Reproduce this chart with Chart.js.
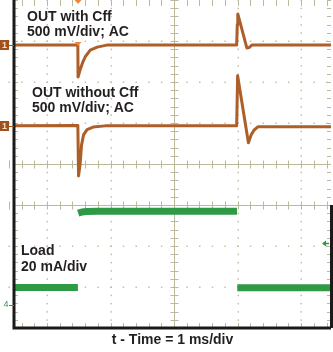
<!DOCTYPE html>
<html>
<head>
<meta charset="utf-8">
<script src="https://cdn.jsdelivr.net/npm/chart.js@4.4.1/dist/chart.umd.min.js"></script>
<style>
  html, body { margin: 0; padding: 0; background: #fff; }
  #wrap { width: 333px; height: 352px; }
</style>
</head>
<body>
<div id="wrap"><canvas id="scope" width="333" height="352"></canvas></div>
<script>
// time in ms (1 ms/div), amplitude in screen divisions (0 = centre line)
const xMin = -2.52, xMax = 2.47;
const yMin = -4, yMax = 4;

// CH1 - OUT with Cff
const outCffX = [-2.55, -1.515, -1.512, -1.48, -1.44, -1.40, -1.32, -1.21, -1.06, 0.985, 0.995, 1.003, 1.145, 1.18, 1.224, 2.5];
const outCffY = [2.90, 2.90, 2.12, 2.29, 2.47, 2.61, 2.78, 2.85, 2.90, 2.90, 3.40, 3.66, 2.83, 2.84, 2.90, 2.90];

// CH1 (second capture) - OUT without Cff
const outNoCffX = [-2.55, -1.515, -1.504, -1.48, -1.457, -1.425, -1.37, -1.276, -1.087, 0.985, 1.0, 1.17, 1.213, 1.26, 1.323, 2.5];
const outNoCffY = [0.93, 0.94, -0.29, -0.02, 0.46, 0.71, 0.84, 0.90, 0.93, 0.93, 2.15, 0.52, 0.71, 0.83, 0.91, 0.91];

// CH4 - load current step (null = no trace drawn on the fast edge)
const loadX = [-2.55, -1.514, -1.512, -1.510, -1.45, -1.38, -1.2, 0.99, 0.992, 0.995, 2.5];
const loadY = [-3.01, -3.01, null, -1.20, -1.17, -1.16, -1.15, -1.15, null, -3.02, -3.02];

// marker levels (div)
const ch1Level = outCffY[0];
const ch2Level = outNoCffY[0];
const ch4Ground = -3.44;
const ch4Arrow = -1.93;
const triggerTime = -1.512;

const pts = (xs, ys) => xs.map((x, i) => ({ x: x, y: ys[i] }));

const font = '"Liberation Sans", Arial, sans-serif';
const textColor = '#231f20';
const brown = '#ad5f2a';
const green = '#2f9a46';

const graticule = {
    id: 'graticule',
    beforeDatasetsDraw(chart) {
        const { ctx, chartArea: a, scales: { x, y } } = chart;
        ctx.save();
        // dotted division lines
        ctx.fillStyle = 'rgb(196,192,166)';
        [-2, -1, 1, 2].forEach(t => {
            const px = Math.round(x.getPixelForValue(t));
            for (let i = -20; i <= 20; i++) {
                const py = y.getPixelForValue(i / 5);
                ctx.fillRect(px - 0.5, py - 0.5, 1.5, 1.5);
            }
        });
        [3, 2, 1, -2, -3].forEach(v => {
            const py = Math.round(y.getPixelForValue(v));
            for (let i = -13; i <= 13; i++) {
                const px = x.getPixelForValue(i / 5);
                ctx.fillRect(px - 0.5, py - 0.5, 1.5, 1.5);
            }
        });
        // solid centre lines with minor ticks
        ctx.strokeStyle = 'rgb(188,184,156)';
        ctx.lineWidth = 1;
        ctx.beginPath();
        [0, -1].forEach(v => {
            const py = Math.round(y.getPixelForValue(v)) + 0.5;
            ctx.moveTo(a.left, py); ctx.lineTo(a.right, py);
            for (let i = -13; i <= 13; i++) {
                const px = Math.round(x.getPixelForValue(i / 5)) + 0.5;
                ctx.moveTo(px, py - 4); ctx.lineTo(px, py + 4);
            }
        });
        const cx = Math.round(x.getPixelForValue(0)) + 0.5;
        ctx.moveTo(cx, a.top); ctx.lineTo(cx, a.bottom);
        for (let i = -20; i <= 20; i++) {
            const py = Math.round(y.getPixelForValue(i / 5)) + 0.5;
            ctx.moveTo(cx - 4, py); ctx.lineTo(cx + 4, py);
            ctx.moveTo(a.left, py); ctx.lineTo(a.left + 4, py);
            ctx.moveTo(a.right, py); ctx.lineTo(a.right - 4, py);
        }
        for (let i = -13; i <= 13; i++) {
            const px = Math.round(x.getPixelForValue(i / 5)) + 0.5;
            if (px < a.left || px > a.right) continue;
            ctx.moveTo(px, a.top); ctx.lineTo(px, a.top + 6);
            ctx.moveTo(px, a.bottom); ctx.lineTo(px, a.bottom - 5);
        }
        ctx.stroke();
        ctx.restore();
    },
    afterDatasetsDraw(chart) {
        const { ctx, chartArea: a, scales: { x, y } } = chart;
        ctx.save();
        // frame
        ctx.strokeStyle = '#1a1a1a';
        ctx.lineWidth = 3;
        ctx.beginPath();
        ctx.moveTo(a.left, a.top); ctx.lineTo(a.left, a.bottom);
        ctx.lineTo(a.right, a.bottom);
        ctx.moveTo(a.right + 0.5, y.getPixelForValue(-1)); ctx.lineTo(a.right + 0.5, a.bottom);
        ctx.stroke();

        // channel 1 markers
        ctx.font = 'bold 9px ' + font;
        ctx.textAlign = 'center';
        ctx.textBaseline = 'middle';
        [ch1Level, ch2Level].forEach(v => {
            const py = Math.round(y.getPixelForValue(v));
            ctx.fillStyle = '#a0521d';
            ctx.fillRect(0, py - 5, 9, 10);
            ctx.fillStyle = '#f3e3d0';
            ctx.fillText('1', 4.5, py + 0.5);
            ctx.strokeStyle = '#a0521d';
            ctx.lineWidth = 1;
            ctx.beginPath(); ctx.moveTo(9, py + 0.5); ctx.lineTo(a.left, py + 0.5); ctx.stroke();
        });
        // channel 4 ground marker
        const gy = Math.round(y.getPixelForValue(ch4Ground));
        ctx.fillStyle = green;
        ctx.font = '9px ' + font;
        ctx.fillText('4', 6, gy);
        ctx.strokeStyle = green;
        ctx.beginPath(); ctx.moveTo(9, gy + 0.5); ctx.lineTo(a.left, gy + 0.5); ctx.stroke();
        // right arrow (trigger level ch4)
        const ay = Math.round(y.getPixelForValue(ch4Arrow)) + 0.5;
        ctx.lineWidth = 1.5;
        ctx.beginPath(); ctx.moveTo(a.right - 2, ay); ctx.lineTo(a.right - 8, ay); ctx.stroke();
        ctx.beginPath();
        ctx.moveTo(a.right - 9, ay); ctx.lineTo(a.right - 5, ay - 3); ctx.lineTo(a.right - 5, ay + 3);
        ctx.closePath(); ctx.fill();
        // trigger position markers
        const tx = x.getPixelForValue(triggerTime);
        ctx.fillStyle = '#f0863a';
        [a.top, y.getPixelForValue(ch1Level) - 3].forEach(ty => {
            ctx.beginPath();
            ctx.moveTo(tx - 3.5, ty); ctx.lineTo(tx + 3.5, ty); ctx.lineTo(tx, ty + 4);
            ctx.closePath(); ctx.fill();
        });

        // annotations
        ctx.fillStyle = textColor;
        ctx.font = 'bold 14px ' + font;
        ctx.textAlign = 'left';
        ctx.textBaseline = 'alphabetic';
        ctx.fillText('OUT with Cff', 27, 21);
        ctx.fillText('500 mV/div; AC', 27, 36);
        ctx.fillText('OUT without Cff', 32, 97);
        ctx.fillText('500 mV/div; AC', 32, 112);
        ctx.fillText('Load', 21, 255);
        ctx.fillText('20 mA/div', 21, 271);
        ctx.restore();
    }
};

const chart = new Chart(document.getElementById('scope').getContext('2d'), {
    type: 'line',
    data: {
        datasets: [
            { label: 'OUT with Cff', data: pts(outCffX, outCffY), borderColor: brown, borderWidth: 3 },
            { label: 'OUT without Cff', data: pts(outNoCffX, outNoCffY), borderColor: brown, borderWidth: 3 },
            { label: 'Load', data: pts(loadX, loadY), borderColor: green, borderWidth: 7, borderCapStyle: 'butt' }
        ]
    },
    options: {
        responsive: false,
        animation: false,
        events: [],
        elements: {
            point: { radius: 0 },
            line: { tension: 0, borderJoinStyle: 'round', fill: false }
        },
        layout: { padding: { left: 14, right: 2, top: 0, bottom: 0 } },
        scales: {
            x: { type: 'linear', min: xMin, max: xMax, display: false },
            y: { type: 'linear', min: yMin, max: yMax, display: false }
        },
        plugins: {
            legend: { display: false },
            tooltip: { enabled: false },
            title: {
                display: true,
                position: 'bottom',
                fullSize: false,
                text: 't - Time = 1 ms/div',
                color: textColor,
                font: { family: font, size: 14, weight: 'bold' },
                padding: { top: 3.6, bottom: 3.6 }
            }
        }
    },
    plugins: [graticule]
});
</script>
</body>
</html>
